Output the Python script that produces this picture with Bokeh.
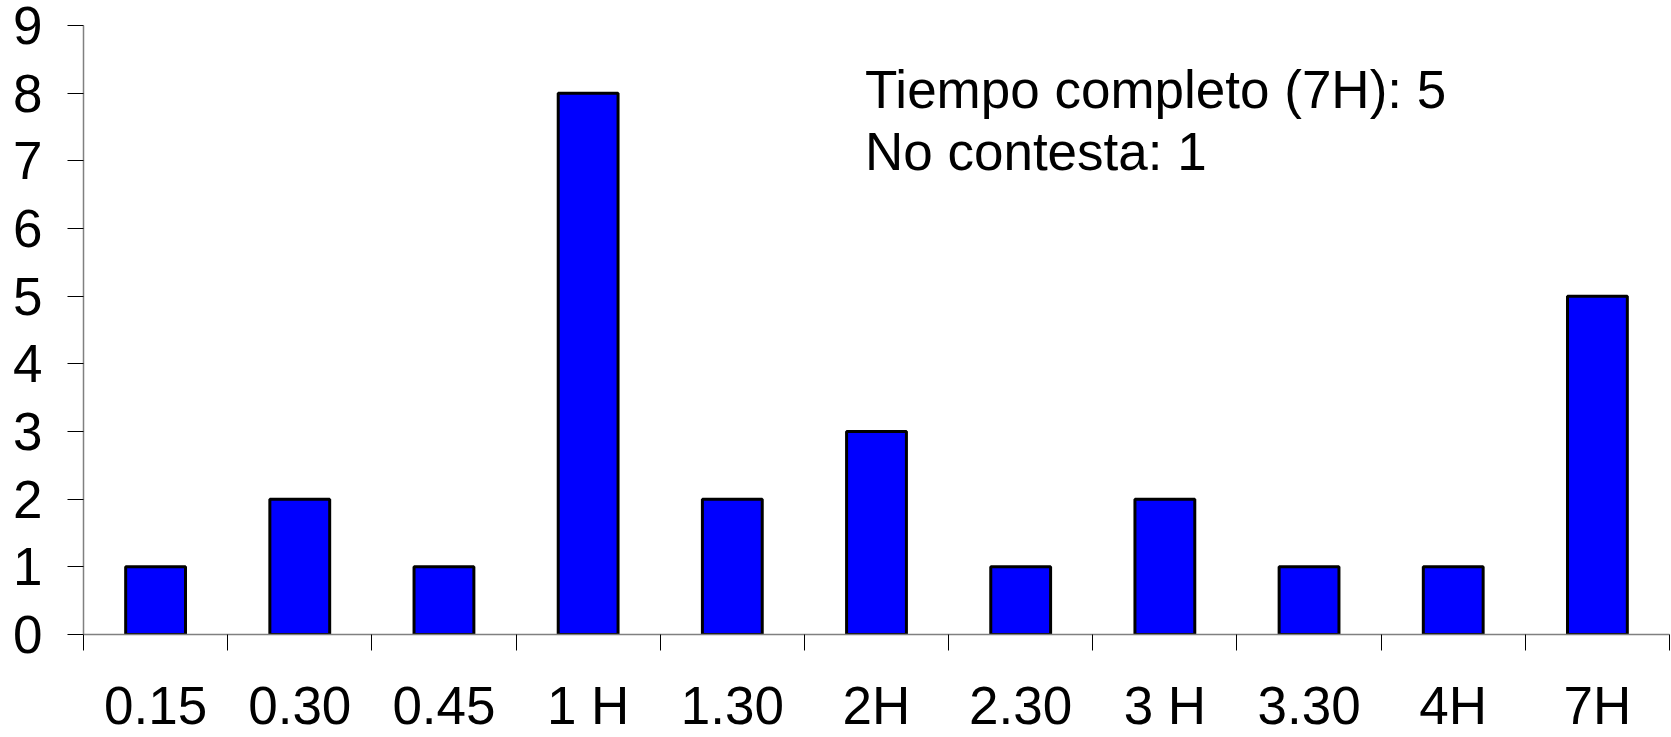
from bokeh.plotting import figure
from bokeh.models import Range1d, FixedTicker, Label, ColumnDataSource
from bokeh.embed import file_html
from bokeh.resources import INLINE

categories = ["0.15", "0.30", "0.45", "1 H", "1.30", "2H", "2.30", "3 H", "3.30", "4H", "7H"]
counts = [1, 2, 1, 8, 2, 3, 1, 2, 1, 1, 5]
y_ticks = [0, 1, 2, 3, 4, 5, 6, 7, 8, 9]
notes = ["Tiempo completo (7H): 5", "No contesta: 1"]

FONT = "Liberation Sans"

n = len(categories)
centers = [i + 0.5 for i in range(n)]
source = ColumnDataSource(dict(x=centers, top=counts, cat=categories))

p = figure(width=1671, height=737, output_backend="svg", toolbar_location=None,
           x_range=Range1d(0, n), y_range=Range1d(0, 9),
           min_border_left=83, min_border_right=2, min_border_top=25, min_border_bottom=102)
p.outline_line_color = None
p.xgrid.grid_line_color = None
p.ygrid.grid_line_color = None
p.background_fill_color = "white"
p.border_fill_color = "white"

p.vbar(x="x", top="top", bottom=0, width=0.415, source=source,
       fill_color="#0000FF", line_color="black", line_width=3)

# x axis: labels at centres, ticks at category boundaries
xa = p.xaxis[0]
xa.axis_label = None
xa.axis_label_standoff = 0
xa.ticker = FixedTicker(ticks=centers, minor_ticks=list(range(n + 1)))
xa.major_label_overrides = {c: lab for c, lab in zip(centers, categories)}
xa.major_tick_out = 0
xa.major_tick_in = 0
xa.minor_tick_out = 16
xa.minor_tick_in = 0
xa.minor_tick_line_color = "black"
xa.axis_line_color = "#808080"
xa.axis_line_width = 1.5
xa.major_label_text_font = FONT
xa.major_label_text_font_size = "53px"
xa.major_label_text_color = "black"
xa.major_label_standoff = 25

ya = p.yaxis[0]
ya.axis_label = None
ya.ticker = FixedTicker(ticks=y_ticks)
ya.major_tick_out = 16
ya.major_tick_in = 0
ya.minor_tick_out = 0
ya.major_tick_line_color = "black"
ya.axis_line_color = "#808080"
ya.axis_line_width = 1.5
ya.major_label_text_font = FONT
ya.major_label_text_font_size = "53px"
ya.major_label_text_color = "black"
ya.major_label_standoff = 25

for i, t in enumerate(notes):
    p.add_layout(Label(x=5.42, y=8.05 - i * 0.91, text=t, text_font=FONT,
                       text_font_size="53px", text_color="black",
                       text_baseline="alphabetic", text_align="left"))

open("out.html", "w").write(file_html(p, INLINE))
